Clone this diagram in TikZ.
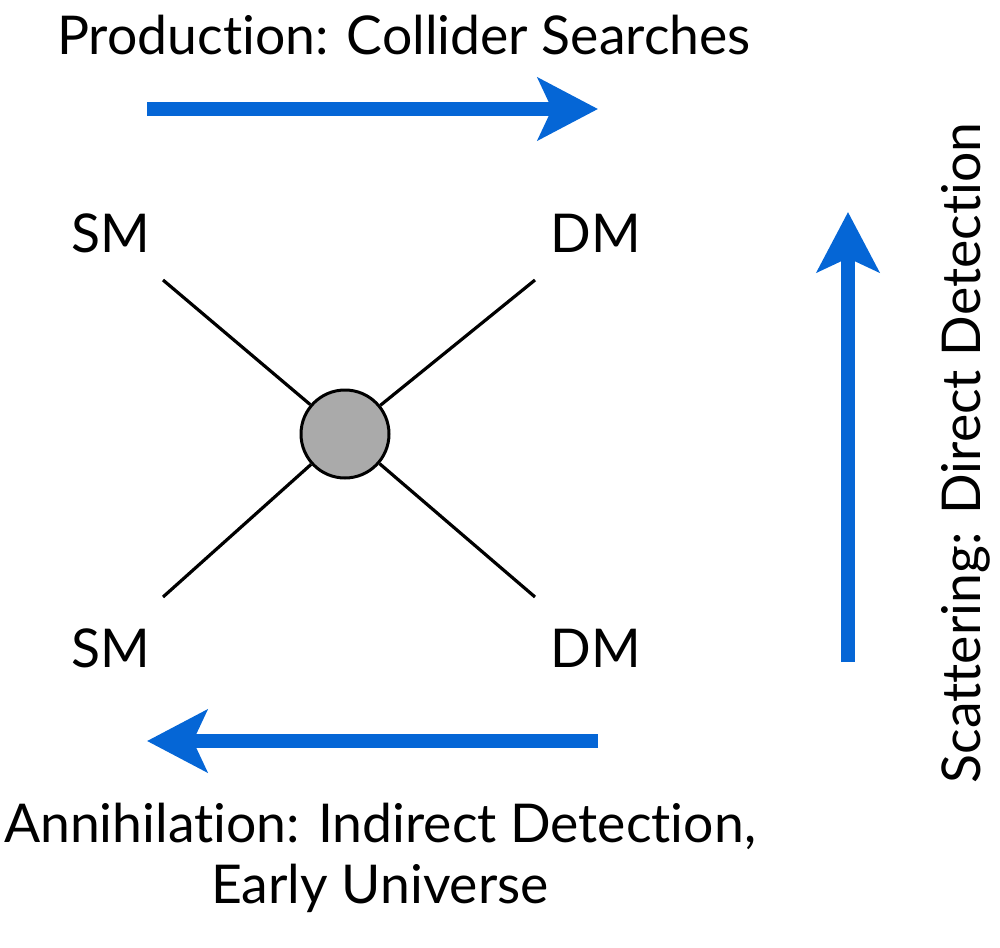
\documentclass[tikz,border=0pt]{standalone}
\usepackage{fontspec}
\setmainfont{Lato}[Ligatures=NoCommon]
\usetikzlibrary{arrows.meta}
\definecolor{arrowblue}{RGB}{5,102,214}
\definecolor{blobgray}{RGB}{170,170,170}
\begin{document}
\begin{tikzpicture}[x=1pt,y=-1pt,
  lbl/.style={font=\fontsize{53.5}{61}\selectfont, inner sep=0pt},
  bigarrow/.style={arrowblue, line width=14pt, -{Stealth[length=60pt,width=62pt,inset=14pt]}},
  leg/.style={line width=3.2pt, black}]
\useasboundingbox (0,0) rectangle (1000,947);
\node[lbl] (prod) at (404,35) {Production: Collider Searches};
\node[lbl] (smtl) at (111,233) {SM};
\node[lbl] (dmtr) at (596,233) {DM};
\node[lbl] (smbl) at (111,648) {SM};
\node[lbl] (dmbr) at (596,648) {DM};
\node[lbl, align=center] (ann) at (380,858) {Annihilation: Indirect Detection,\\ Early Universe};
\node[lbl, rotate=90] (scat) at (966,453) {Scattering: Direct Detection};
\coordinate (a1) at (163,280);
\coordinate (a2) at (535,280);
\coordinate (a3) at (163,597);
\coordinate (a4) at (535,597);
\node[circle, draw=black, line width=3pt, fill=blobgray, minimum size=88pt, inner sep=0pt] (blob) at (345,434) {};
\draw[leg] (a1) -- (blob);
\draw[leg] (a2) -- (blob);
\draw[leg] (a3) -- (blob);
\draw[leg] (a4) -- (blob);
\coordinate (t1) at (147,109);
\coordinate (t2) at (598,109);
\coordinate (b1) at (598,741);
\coordinate (b2) at (147,741);
\coordinate (r1) at (848,662);
\coordinate (r2) at (848,212);
\draw[bigarrow] (t1) -- (t2);
\draw[bigarrow] (b1) -- (b2);
\draw[bigarrow] (r1) -- (r2);
\end{tikzpicture}
\end{document}
